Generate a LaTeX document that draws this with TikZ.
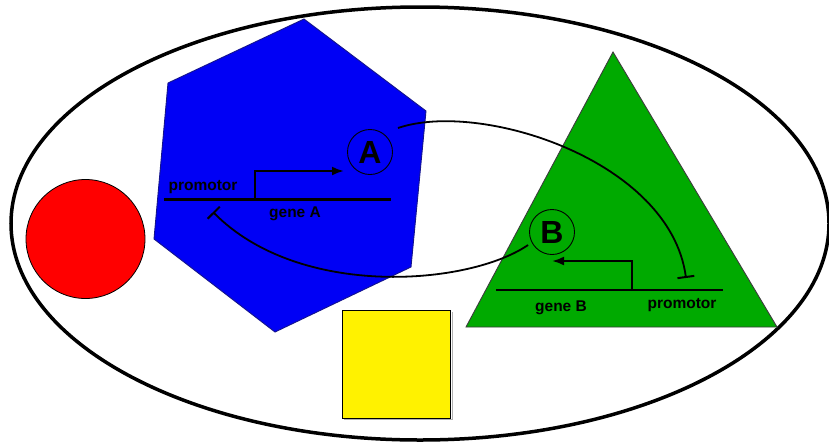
\documentclass[tikz,border=0pt]{standalone}
\usepackage{fontspec}
\setmainfont{Liberation Sans}
\usetikzlibrary{arrows.meta}
\definecolor{hexblue}{RGB}{0,0,245}
\definecolor{hexedge}{RGB}{20,20,140}
\definecolor{trigreen}{RGB}{0,170,0}
\definecolor{triedge}{RGB}{60,60,60}
\tikzset{
  lbl/.style={font=\bfseries\fontsize{15.5}{18}\selectfont, inner sep=0pt},
  prot/.style={circle, draw=black, line width=0.9pt, minimum size=45pt, inner sep=0pt,
    font=\bfseries\fontsize{32}{36}\selectfont},
  geneline/.style={line width=2.6pt},
  promarrow/.style={line width=2.2pt, -{Latex[length=12pt,width=9pt]}},
  inhib/.style={line width=1.8pt, -{Bar[width=17pt,line width=2pt]}},
}
\begin{document}
\begin{tikzpicture}[x=1pt,y=-1pt]
\useasboundingbox (0,0) rectangle (829,445);
\fill[white] (0,0) rectangle (829,445);
% cell
\draw[line width=3.5pt] (420,223.5) ellipse [x radius=409, y radius=216.5];
% red circle
\draw[fill=red, line width=0.8pt] (85.5,239) circle [radius=59.5];
% blue hexagon
\draw[fill=hexblue, draw=hexedge, line width=0.9pt]
  (304,19) -- (426,111) -- (411,267) -- (275,332) -- (154,239) -- (168,83) -- cycle;
% green triangle
\draw[fill=trigreen, draw=triedge, line width=0.9pt]
  (613,52) -- (777,327) -- (466,327) -- cycle;
% yellow square
\draw[gray!60, line width=1pt] (344,419.5) -- (452,419.5) -- (452,311.5);
\draw[fill=yellow, line width=0.8pt] (342.5,310) rectangle (450.5,418);
% gene A
\node[prot] (A) at (370,152) {A};
\coordinate (gA1) at (164,199.5);
\coordinate (gA2) at (391,199.5);
\coordinate (pA) at (255,199.5);
\coordinate (pAtop) at (255,171);
\coordinate (pAtip) at (344,171);
\draw[geneline] (gA1) -- (gA2);
\draw[promarrow] (pA) -- (pAtop) -- (pAtip);
\node[lbl] (promA) at (203,187) {promotor};
\node[lbl] (geneA) at (295,214) {gene A};
% gene B
\node[prot] (B) at (552,232) {B};
\coordinate (gB1) at (496,290);
\coordinate (gB2) at (723,290);
\coordinate (pB) at (632,290);
\coordinate (pBtop) at (632,261);
\coordinate (pBtip) at (552,261);
\draw[geneline] (gB1) -- (gB2);
\draw[promarrow] (pB) -- (pBtop) -- (pBtip);
\node[lbl] (geneB) at (561,308) {gene B};
\node[lbl] (promB) at (682,305) {promotor};
% repression arcs
\coordinate (Aout) at (398,128);
\coordinate (Bin) at (686,278);
\coordinate (Bout) at (528,245);
\coordinate (Ain) at (213,212);
\draw[inhib] (Aout) .. controls (480,100) and (670,160) .. (Bin);
\draw[inhib] (Bout) .. controls (470,285) and (300,300) .. (Ain);
\end{tikzpicture}
\end{document}
